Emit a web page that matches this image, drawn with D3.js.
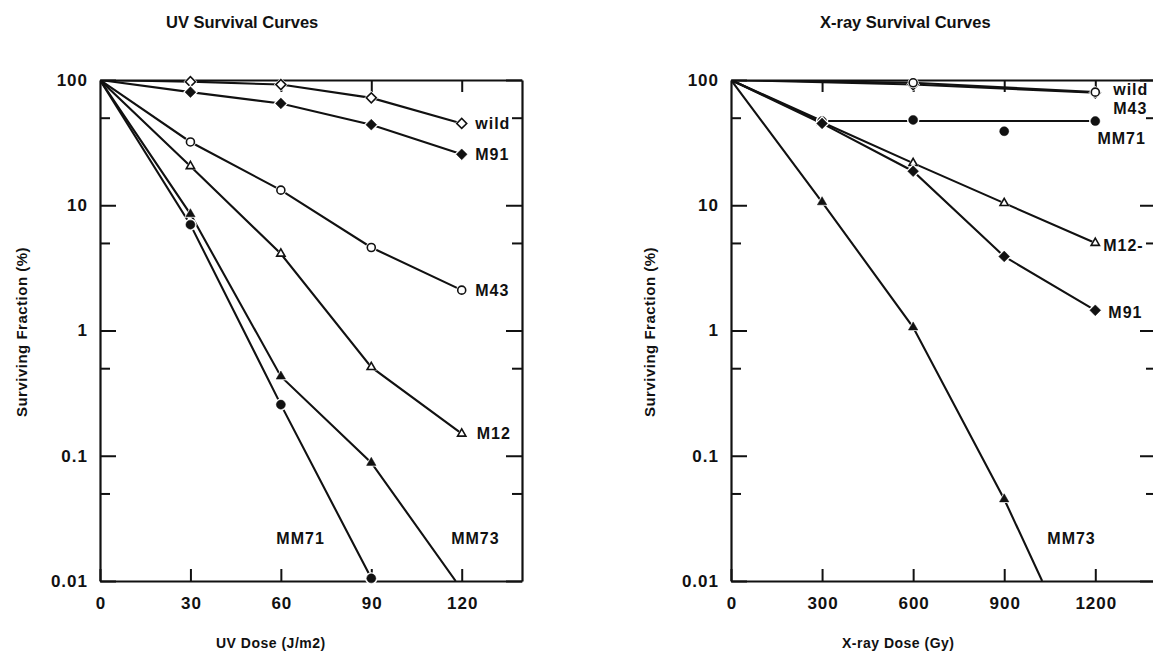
<!DOCTYPE html>
<html>
<head>
<meta charset="utf-8">
<script src="https://cdn.jsdelivr.net/npm/d3@7"></script>
<style>
  body { margin: 0; background: #fff; }
  text { font-family: "Liberation Sans", Arial, sans-serif; font-weight: bold; fill: #111; }
</style>
</head>
<body>
<div id="chart"></div>
<script>
const width = 1153;
const height = 657;

// survival values in %
const uvDose = [0, 30, 60, 90, 120];
const uvWild = [100, 97, 92, 72, 45];
const uvM91 = [100, 80, 65, 44, 25.5];
const uvM43 = [100, 32, 13.2, 4.6, 2.1];
const uvM12 = [100, 20.5, 4.1, 0.51, 0.15];
const uvMM73 = [100, 8.5, 0.43, 0.088, null];
const uvMM71 = [100, 7.0, 0.256, 0.0105, null];
const uvMM73Tail = [118, 0.01];

const xrDose = [0, 300, 600, 900, 1200];
const xrWild = [100, null, 92, null, 79];
const xrM43 = [100, null, 95, null, 80];
const xrMM71 = [100, 47, 48, 39, 47];
const xrMM71Fit = [100, 47, null, null, 47];
const xrM12 = [100, 46, 21.7, 10.4, 5.0];
const xrM91 = [100, 45, 18.7, 3.9, 1.45];
const xrMM73 = [100, 10.6, 1.06, 0.045, null];
const xrMM73Tail = [1025, 0.01];

const yMajor = [100, 10, 1, 0.1, 0.01];
const yMinor = [50, 5, 0.5, 0.05];
const uvTicks = [0, 30, 60, 90, 120];
const xrTicks = [0, 300, 600, 900, 1200];

const svg = d3.select('#chart').append('svg')
  .attr('width', width)
  .attr('height', height);
svg.append('rect').attr('width', width).attr('height', height).attr('fill', '#fff');

const y = d3.scaleLog().domain([0.01, 100]).range([581, 80]);

const marker = (g, type, px, py) => {
  const filled = type.startsWith('f');
  const shape = type.slice(1);
  let sym, rot = 0, size;
  if (shape === 'diamond') { sym = d3.symbolSquare; rot = 45; size = filled ? 58 : 50; }
  else if (shape === 'circle') { sym = d3.symbolCircle; size = filled ? 64 : 50; }
  else { sym = d3.symbolTriangle; size = filled ? 38 : 30; }
  const t = `translate(${px},${py}) rotate(${rot})`;
  // white halo to break the line round the symbol
  g.append('path')
    .attr('d', d3.symbol().type(sym).size(size * 1.9)())
    .attr('transform', t)
    .attr('fill', '#fff');
  g.append('path')
    .attr('d', d3.symbol().type(sym).size(size)())
    .attr('transform', t)
    .attr('fill', filled ? '#111' : '#fff')
    .attr('stroke', '#111')
    .attr('stroke-width', filled ? 0.5 : 1.6);
}

const drawPanel = (p) => {
  const x = d3.scaleLinear().domain(p.domain).range(p.range);
  const g = svg.append('g');
  const id = 'clip' + p.key;
  svg.append('clipPath').attr('id', id)
    .append('rect')
    .attr('x', p.range[0]).attr('y', 80)
    .attr('width', p.range[1] - p.range[0]).attr('height', 501);

  // axes
  const bottom = g.append('g').attr('transform', 'translate(0,581)')
    .call(d3.axisBottom(x).tickValues(p.ticks).tickSizeInner(-12).tickSizeOuter(0).tickPadding(16)
      .tickFormat(d3.format('d')));
  const top = g.append('g').attr('transform', 'translate(0,80)')
    .call(d3.axisTop(x).tickValues(p.ticks.slice(1)).tickSizeInner(-12).tickSizeOuter(0).tickFormat(''));
  const left = g.append('g').attr('transform', `translate(${p.range[0]},0)`)
    .call(d3.axisLeft(y).tickValues(yMajor.concat(yMinor)).tickSizeInner(-16).tickSizeOuter(0).tickPadding(12)
      .tickFormat(d => yMajor.includes(d) ? String(d) : ''));
  const right = g.append('g').attr('transform', `translate(${p.range[1]},0)`)
    .call(d3.axisRight(y).tickValues(yMajor.concat(yMinor)).tickSizeInner(-16).tickSizeOuter(0).tickFormat(''));
  left.selectAll('.tick line').attr('x2', d => yMajor.includes(d) ? 16 : 10);
  right.selectAll('.tick line').attr('x2', d => yMajor.includes(d) ? -16 : -10);
  [bottom, top, left, right].forEach(a => {
    a.select('.domain').attr('stroke', '#111').attr('stroke-width', 2.2);
    a.selectAll('.tick line').attr('stroke', '#111').attr('stroke-width', 2);
    a.selectAll('text').style('font-size', '17px').style('letter-spacing', '1px').attr('fill', '#111');
  });
  bottom.selectAll('.tick text').attr('dx', '0.5px');

  // series
  const lines = g.append('g').attr('clip-path', `url(#${id})`);
  const line = d3.line().x(d => x(d[0])).y(d => y(d[1]));
  p.series.forEach(s => {
    let pts = p.dose.map((d, i) => [d, (s.fit || s.values)[i]]).filter(d => d[1] !== null);
    if (s.tail) pts.push(s.tail);
    lines.append('path')
      .attr('d', line(pts))
      .attr('fill', 'none')
      .attr('stroke', '#111')
      .attr('stroke-width', 2.1);
  });
  const marks = g.append('g');
  p.series.forEach(s => {
    p.dose.forEach((d, i) => {
      const v = s.values[i];
      if (v === null || d === 0) return;
      marker(marks, s.symbol, x(d), y(v));
    });
    g.append('text')
      .attr('x', x(s.label[0]))
      .attr('y', y(s.label[1]))
      .attr('dy', '0.36em')
      .style('font-size', '16px')
      .style('letter-spacing', '1px')
      .text(s.name);
  });

  // titles
  g.append('text').attr('x', p.titleX).attr('y', 28)
    .style('font-size', '16.5px')
    .text(p.title);
  g.append('text').attr('x', p.xLabelX).attr('y', 648)
    .style('font-size', '14px').style('letter-spacing', '0.5px')
    .text(p.xLabel);
  g.append('text')
    .attr('transform', `translate(${p.yLabelX},332) rotate(-90)`)
    .attr('text-anchor', 'middle')
    .style('font-size', '15px').style('letter-spacing', '0.5px')
    .text('Surviving Fraction (%)');
}

drawPanel({
  key: 'uv',
  domain: [0, 140], range: [100, 522],
  ticks: uvTicks, dose: uvDose,
  title: 'UV Survival Curves', titleX: 166,
  xLabel: 'UV Dose (J/m2)', xLabelX: 216, yLabelX: 27,
  series: [
    { name: 'wild', symbol: 'odiamond', values: uvWild, label: [124.5, 45] },
    { name: 'M91', symbol: 'fdiamond', values: uvM91, label: [124.5, 25.5] },
    { name: 'M43', symbol: 'ocircle', values: uvM43, label: [124.5, 2.1] },
    { name: 'M12', symbol: 'otriangle', values: uvM12, label: [125, 0.15] },
    { name: 'MM73', symbol: 'ftriangle', values: uvMM73, tail: uvMM73Tail, label: [116.5, 0.022] },
    { name: 'MM71', symbol: 'fcircle', values: uvMM71, label: [58.5, 0.022] }
  ]
});

drawPanel({
  key: 'xr',
  domain: [0, 1400], range: [731, 1156],
  ticks: xrTicks, dose: xrDose,
  title: 'X-ray Survival Curves', titleX: 820,
  xLabel: 'X-ray Dose (Gy)', xLabelX: 842, yLabelX: 655,
  series: [
    { name: 'wild', symbol: 'odiamond', values: xrWild, label: [1259, 84] },
    { name: 'M43', symbol: 'ocircle', values: xrM43, label: [1259, 59] },
    { name: 'MM71', symbol: 'fcircle', values: xrMM71, fit: xrMM71Fit, label: [1207, 34] },
    { name: 'M12-', symbol: 'otriangle', values: xrM12, label: [1226, 4.8] },
    { name: 'M91', symbol: 'fdiamond', values: xrM91, label: [1243, 1.4] },
    { name: 'MM73', symbol: 'ftriangle', values: xrMM73, tail: xrMM73Tail, label: [1042, 0.022] }
  ]
});
</script>
</body>
</html>
